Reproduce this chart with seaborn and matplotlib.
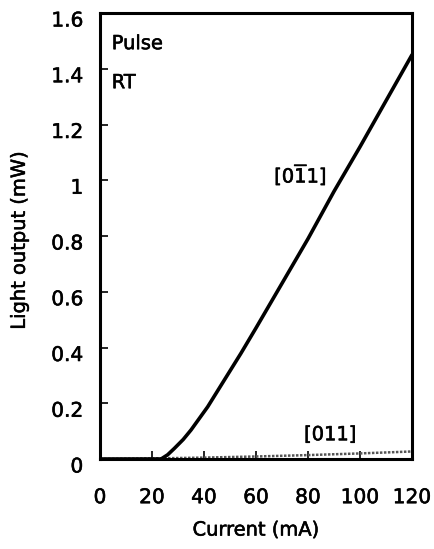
import matplotlib
matplotlib.use("Agg")
import matplotlib.pyplot as plt
import matplotlib.transforms as mtransforms
import matplotlib.patheffects as pe
import seaborn as sns
import pandas as pd

# light output vs current
current_a = [0, 10, 20, 23.5, 26, 28.6, 32, 35, 41.4, 47.8, 54.2, 60, 70, 80, 90, 100, 110, 120]
power_a = [0, 0, 0, 0, 0.015, 0.038, 0.07, 0.104, 0.187, 0.283, 0.379, 0.47, 0.63, 0.79, 0.96, 1.12, 1.285, 1.45]

current_b = [0, 20, 40, 60, 80, 100, 120]
power_b = [0, 0.002, 0.005, 0.009, 0.014, 0.02, 0.027]

xticks = [0, 20, 40, 60, 80, 100, 120]
yticks = [0, 0.2, 0.4, 0.6, 0.8, 1.0, 1.2, 1.4, 1.6]
ytick_labels = ["0", "0.2", "0.4", "0.6", "0.8", "1", "1.2", "1.4", "1.6"]

df_a = pd.DataFrame({"current": current_a, "power": power_a})
df_b = pd.DataFrame({"current": current_b, "power": power_b})

sns.set_style("ticks")
plt.rcParams["font.family"] = ["DejaVu Sans"]
plt.rcParams["mathtext.fontset"] = "dejavusans"
plt.rcParams["text.color"] = "black"
plt.rcParams["axes.labelcolor"] = "black"

fig = plt.figure(figsize=(4.35, 5.49), dpi=100)
ax = fig.add_axes([100 / 435, 1 - 459 / 549, 312 / 435, 446 / 549])

sns.lineplot(data=df_b, x="current", y="power", ax=ax, color="#555555",
             linewidth=1.8, linestyle=(0, (1, 0.6)))
sns.lineplot(data=df_a, x="current", y="power", ax=ax, color="black",
             linewidth=2.6)

ax.set_xlim(0, 120)
ax.set_ylim(0, 1.6)
ax.set_xticks(xticks)
ax.set_yticks(yticks)
ax.set_yticklabels(ytick_labels)
ax.tick_params(direction="in", length=6, width=1.2, labelsize=14.5, colors="black")
ax.tick_params(axis="x", pad=21)
ax.tick_params(axis="y", pad=12)

# tick labels in the original sit a bit below their ticks
offset = mtransforms.ScaledTranslation(0, -6 / 100, fig.dpi_scale_trans)
for lab in ax.get_yticklabels():
    lab.set_transform(lab.get_transform() + offset)

for sp in ax.spines.values():
    sp.set_linewidth(2.2)
    sp.set_color("black")

ax.set_xlabel("Current (mA)", fontsize=14)
ax.set_ylabel("Light output (mW)", fontsize=14)
ax.xaxis.set_label_coords(0.5, -0.138)
ax.yaxis.set_label_coords(-0.228, 0.49)

ax.text(4.5, 1.49, "Pulse", fontsize=14, va="center", ha="left")
ax.text(4.5, 1.35, "RT", fontsize=14, va="center", ha="left")
ax.text(67, 1.02, r"[0$\overline{1}$1]", fontsize=14, va="center", ha="left")
ax.text(78.5, 0.087, "[011]", fontsize=14, va="center", ha="left")

# the scanned original has slightly heavier glyphs
thick = [pe.withStroke(linewidth=0.4, foreground="black")]
for t in ax.texts + ax.get_xticklabels() + ax.get_yticklabels() + [ax.xaxis.label, ax.yaxis.label]:
    t.set_path_effects(thick)

fig.savefig("out.png", dpi=100)
